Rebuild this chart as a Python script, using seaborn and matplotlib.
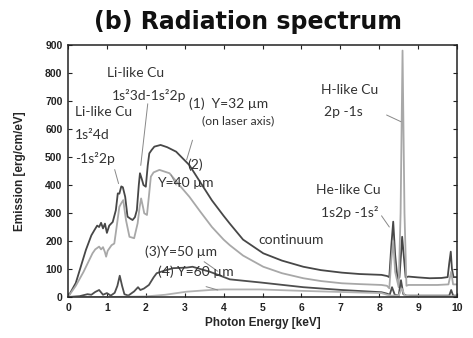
import pandas as pd
import matplotlib
matplotlib.use('Agg')
import matplotlib.pyplot as plt
import seaborn as sns

# 样式
sns.set_style('ticks')
plt.rcParams['font.family'] = ['Liberation Sans', 'DejaVu Sans']
plt.rcParams['xtick.direction'] = 'in'
plt.rcParams['ytick.direction'] = 'in'

# (1) Y=32 um
x1 = [0, 0.2, 0.46, 0.6, 0.68, 0.75, 0.8, 0.85, 0.9, 0.95, 1.0, 1.06, 1.15, 1.23, 1.28, 1.32, 1.37,
      1.41, 1.47, 1.53, 1.6, 1.66, 1.72, 1.77, 1.82, 1.85, 1.9, 1.94, 2.0, 2.05, 2.09, 2.15, 2.22,
      2.38, 2.55, 2.78, 3.12, 3.4, 3.7, 4.0, 4.16, 4.5, 5.02, 5.5, 6.05, 6.5, 7.04, 7.5, 8.06, 8.2,
      8.26, 8.31, 8.36, 8.41, 8.47, 8.52, 8.56, 8.59, 8.63, 8.68, 8.75, 9.0, 9.3, 9.6, 9.76, 9.8,
      9.84, 9.87, 9.91, 10]
y1 = [0, 50, 168, 220, 239, 255, 250, 265, 245, 262, 229, 255, 268, 310, 370, 369, 395,
      392, 358, 287, 280, 275, 285, 310, 400, 442, 420, 400, 394, 470, 513, 525, 537,
      543, 535, 519, 471, 410, 345, 290, 262, 205, 156, 130, 108, 96, 87, 82, 79, 75,
      71, 180, 269, 150, 65, 70, 150, 215, 150, 70, 73, 70, 67, 68, 71, 120,
      162, 100, 71, 71]

# (2) Y=40 um
x2 = [0, 0.2, 0.4, 0.63, 0.7, 0.8, 0.85, 0.9, 0.95, 0.98, 1.02, 1.06, 1.12, 1.19, 1.25, 1.32, 1.37,
      1.42, 1.49, 1.58, 1.7, 1.79, 1.84, 1.88, 1.93, 1.96, 2.03, 2.08, 2.13, 2.2, 2.35, 2.61, 2.86,
      3.12, 3.4, 3.7, 4.0, 4.16, 4.5, 5.02, 5.5, 6.05, 6.5, 7.04, 7.5, 8.06, 8.2, 8.26, 8.31, 8.36,
      8.41, 8.5, 8.55, 8.6, 8.65, 8.7, 8.75, 9.0, 9.5, 9.78, 9.85, 9.9, 10]
y2 = [0, 40, 90, 156, 170, 180, 170, 178, 160, 144, 165, 173, 185, 191, 250, 322, 335,
      346, 275, 215, 210, 263, 320, 352, 320, 299, 293, 360, 430, 445, 454, 442, 400,
      358, 305, 250, 205, 185, 148, 108, 85, 67, 57, 49, 46, 43, 40, 31, 130, 200,
      90, 35, 300, 880, 300, 40, 43, 43, 43, 45, 90, 45, 45]

# (3) Y=50 um
x3 = [0, 0.3, 0.5, 0.6, 0.7, 0.8, 0.9, 1.0, 1.1, 1.2, 1.27, 1.33, 1.39, 1.45, 1.55, 1.7, 1.8, 1.86,
      1.95, 2.08, 2.2, 2.28, 2.5, 2.7, 3.05, 3.2, 3.65, 4.16, 4.94, 6.05, 7.04, 8.06, 8.2, 8.27,
      8.33, 8.4, 8.5, 8.56, 8.62, 8.7, 9.0, 9.8, 9.85, 9.9, 10]
y3 = [0, 3, 10, 8, 18, 25, 8, 14, 5, 15, 40, 76, 40, 10, 5, 20, 35, 25,
      30, 43, 70, 85, 95, 103, 105, 108, 90, 63, 52, 35, 25, 17, 12, 8,
      35, 8, 5, 60, 10, 5, 5, 5, 25, 5, 5]

# (4) Y=60 um
x4 = [0, 1.0, 2.0, 2.5, 3.05, 3.65, 4.0, 4.94, 6.0, 7.0, 8.06, 8.2, 8.3, 8.5, 8.58, 8.66, 8.8, 9.5, 10]
y4 = [0, 0, 2, 8, 19, 25, 27, 27, 22, 18, 14, 8, 5, 5, 30, 5, 3, 3, 3]

curves = [(x1, y1, '#474747'), (x2, y2, '#a8a8a8'), (x3, y3, '#4e4e4e'), (x4, y4, '#b2b2b2')]

fig = plt.figure(figsize=(4.73, 3.38), dpi=100)
ax = fig.add_axes([68 / 473, 1 - 297 / 338, 389 / 473, 252 / 338])

for xs, ys, c in curves:
    df = pd.DataFrame({'x': xs, 'y': ys})
    sns.lineplot(data=df, x='x', y='y', color=c, linewidth=1.3, estimator=None, sort=False, ax=ax)

ax.set_xlim(0, 10)
ax.set_ylim(0, 900)
ax.set_xticks(range(0, 11))
ax.set_yticks(range(0, 901, 100))
ax.tick_params(top=True, right=True, length=3, width=0.8, labelsize=7.5, colors='#222222')
ax.tick_params(axis='x', pad=4)
ax.tick_params(axis='y', pad=4)
for lab in ax.get_xticklabels() + ax.get_yticklabels():
    lab.set_fontweight('bold')
for sp in ax.spines.values():
    sp.set_visible(True)
    sp.set_linewidth(1.1)
    sp.set_color('#222222')

ax.set_xlabel('Photon Energy [keV]', fontsize=8.5, fontweight='bold', labelpad=3)
ax.set_ylabel('Emission [erg/cm/eV]', fontsize=8.5, fontweight='bold', labelpad=14)

fig.text(0.525, 1 - 22 / 338, '(b) Radiation spectrum', ha='center', va='center',
         fontsize=17, fontweight='bold', family='DejaVu Sans', color='#111111')

# 标注文字
tfont = dict(family=['Lato', 'DejaVu Sans'], fontsize=10, color='#333333', va='center')
ax.text(1.0, 800, 'Li-like Cu', **tfont)
ax.text(1.12, 720, '1s²3d-1s²2p', **tfont)
ax.text(0.18, 660, 'Li-like Cu', **tfont)
ax.text(0.18, 578, '1s²4d', **tfont)
ax.text(0.18, 496, '-1s²2p', **tfont)
ax.text(3.1, 690, '(1)  Y=32 µm', **tfont)
ax.text(3.45, 630, '(on laser axis)', **dict(tfont, fontsize=8.8))
ax.text(3.26, 471, '(2)', ha='center', **tfont)
ax.text(2.3, 407, 'Y=40 µm', **tfont)
ax.text(1.98, 160, '(3)Y=50 µm', **tfont)
ax.text(2.31, 89, '(4) Y=60 µm', **tfont)
ax.text(4.9, 204, 'continuum', **tfont)
ax.text(6.5, 740, 'H-like Cu', **tfont)
ax.text(6.58, 660, '2p -1s', **tfont)
ax.text(6.38, 382, 'He-like Cu', **tfont)
ax.text(6.5, 303, '1s2p -1s²', **tfont)

# 引线
leaders = [((2.05, 690), (1.87, 470)), ((1.2, 455), (1.3, 405)), ((3.2, 560), (3.05, 490)),
           ((2.65, 436), (2.78, 400)), ((3.5, 126), (3.85, 92)), ((3.55, 37), (3.85, 25)),
           ((8.19, 650), (8.56, 626)), ((8.06, 290), (8.26, 250))]
for (xa, ya), (xb, yb) in leaders:
    ax.plot([xa, xb], [ya, yb], color='#888888', linewidth=0.7)

fig.savefig('out.png', dpi=100)
